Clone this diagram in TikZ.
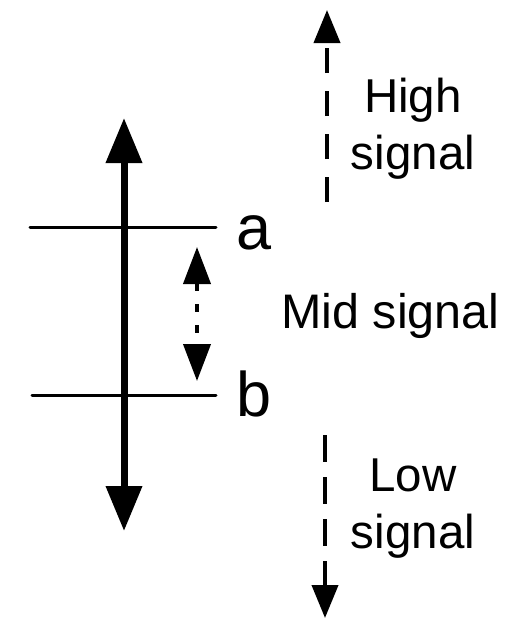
\documentclass[tikz,border=0pt]{standalone}
\usepackage{fontspec}
\setmainfont{Liberation Sans}
\usetikzlibrary{arrows.meta}
\begin{document}
\begin{tikzpicture}[x=1pt,y=-1pt,
  lbl/.style={inner sep=0pt,font=\fontsize{47.5}{57}\selectfont},
  biglbl/.style={inner sep=0pt,font=\fontsize{63}{72}\selectfont,anchor=base west},
  level/.style={line width=3pt,line cap=round},
  mainarrow/.style={line width=7pt,{Triangle[length=45pt,width=35pt]}-{Triangle[length=45pt,width=35pt]}},
  dasharrow/.style={line width=4pt,-{Triangle[length=33pt,width=26pt]}},
  dotarrow/.style={line width=4pt,dash pattern=on 8pt off 13pt,{Triangle[length=37pt,width=27pt]}-{Triangle[length=37pt,width=27pt]}}]
\useasboundingbox (0,0) rectangle (512,619);
% level lines
\coordinate (aL) at (30,227);
\coordinate (aR) at (216,227);
\coordinate (bL) at (32,395);
\coordinate (bR) at (216,395);
\draw[level] (aL) -- (aR);
\draw[level] (bL) -- (bR);
\node[biglbl] (la) at (236,249) {a};
\node[biglbl] (lb) at (236,416) {b};
% main double arrow
\coordinate (mT) at (124,118);
\coordinate (mB) at (124,531);
\draw[mainarrow] (mB) -- (mT);
% mid dotted arrow
\coordinate (dT) at (197,247);
\coordinate (dB) at (197,381);
\draw[dotarrow] (dT) -- (dB);
\node[lbl,anchor=base west,font=\fontsize{48.5}{57}\selectfont] (mid) at (281,328) {Mid signal};
% high dashed arrow
\coordinate (hS) at (327,202);
\coordinate (hE) at (327,10);
\draw[dasharrow,dash pattern=on 25pt off 18pt] (hS) -- (hE);
\node[lbl,align=center] (high) at (413,128.5) {High\\signal};
% low dashed arrow
\coordinate (lS) at (325,435);
\coordinate (lE) at (325,618);
\draw[dasharrow,dash pattern=on 27pt off 15pt] (lS) -- (lE);
\node[lbl,align=center] (low) at (413,508.5) {Low\\signal};
\end{tikzpicture}
\end{document}
